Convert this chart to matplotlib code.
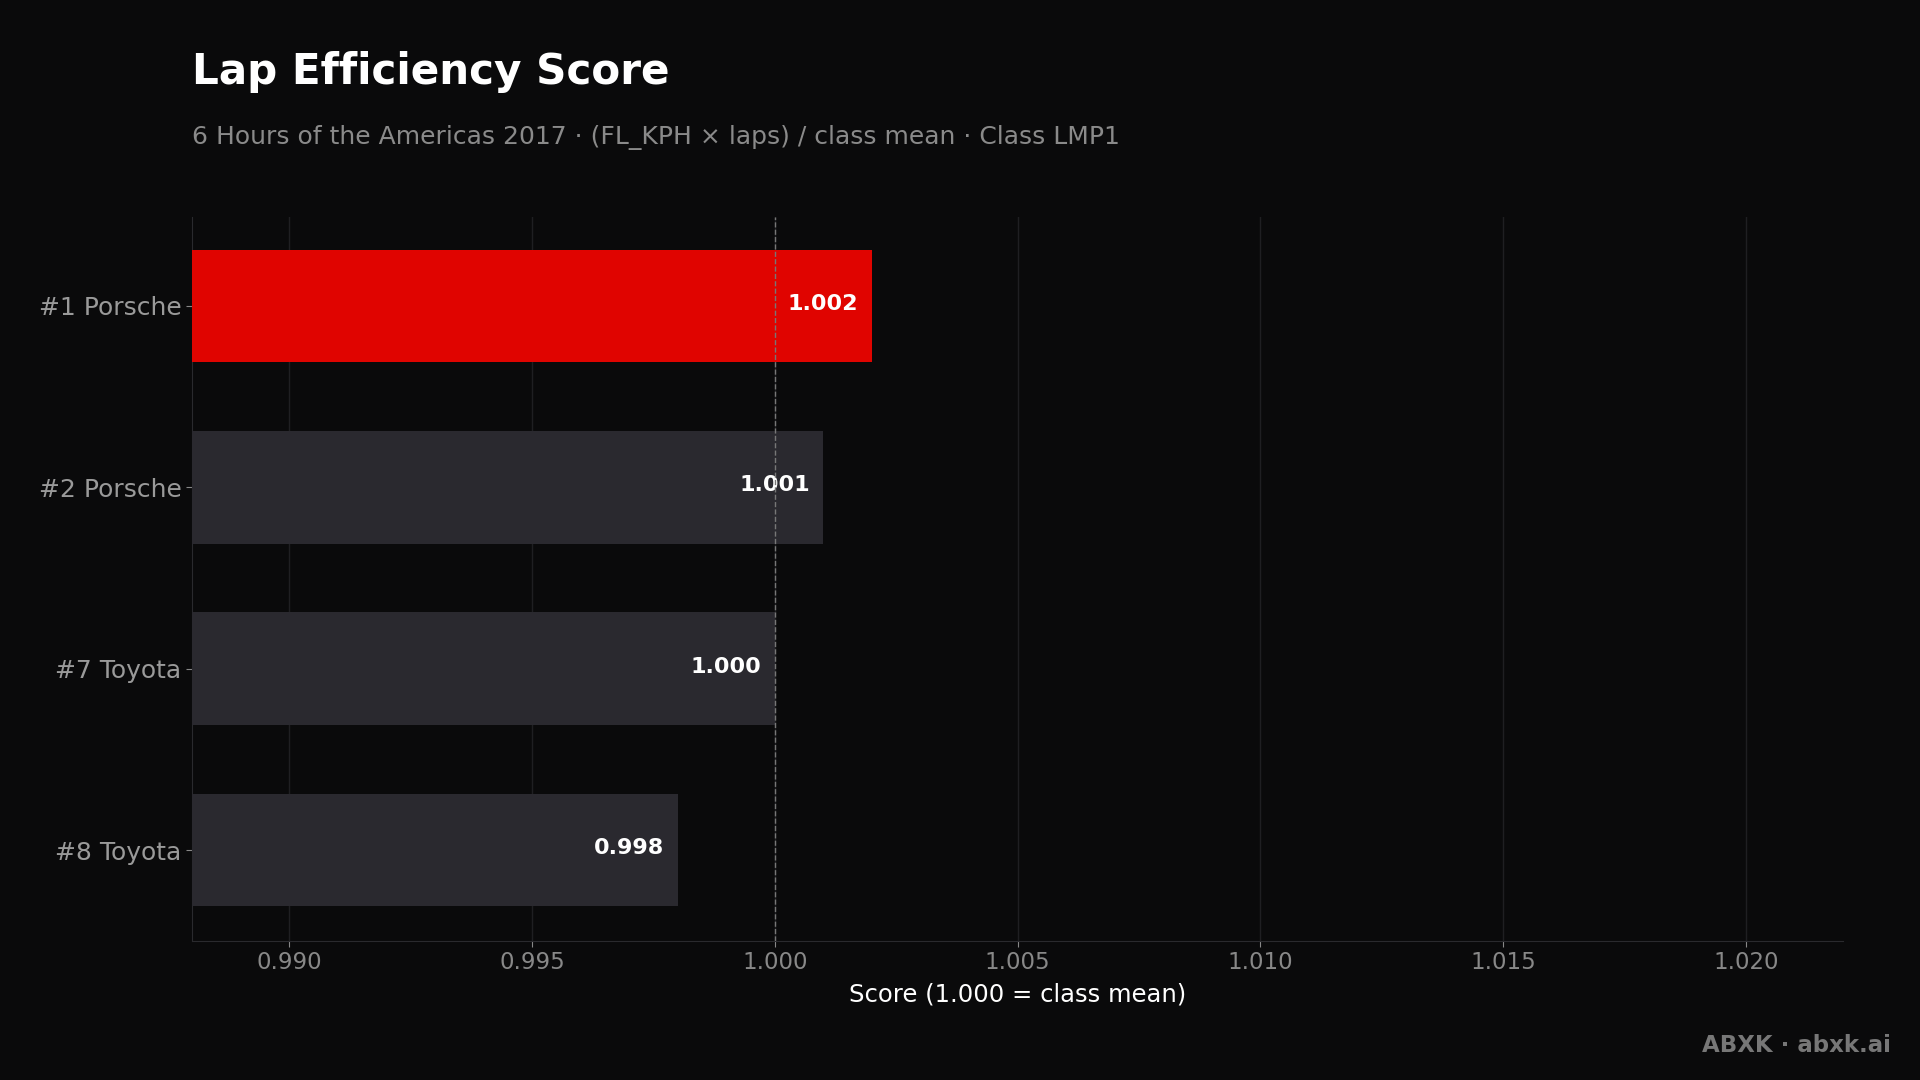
import matplotlib
matplotlib.use("Agg")
import matplotlib.pyplot as plt

cars = ["#1 Porsche", "#2 Porsche", "#7 Toyota", "#8 Toyota"]
scores = [1.002, 1.001, 1.000, 0.998]
colors = ["#e00400", "#2a292f", "#2a292f", "#2a292f"]
xticks = [0.990, 0.995, 1.000, 1.005, 1.010, 1.015, 1.020]

bg = "#0a0a0b"
fig = plt.figure(figsize=(19.2, 10.8), dpi=100, facecolor=bg)
ax = fig.add_axes([0.100, 0.129, 0.860, 0.670], facecolor=bg)

y = list(range(len(cars)))
ax.barh(y, [s - 0.988 for s in scores], left=0.988, height=0.62, color=colors, zorder=3)
for yi, s in zip(y, scores):
    ax.text(s - 0.00028, yi - 0.01, f"{s:.3f}", ha="right", va="center", color="white",
            fontsize=16, fontweight="bold", zorder=4)
ax.axvline(1.0, color="#777777", linestyle="--", linewidth=1, zorder=4)

ax.set_xlim(0.988, 1.022)
ax.set_ylim(3.5, -0.49)
ax.set_yticks(y)
ax.set_yticklabels(cars)
ax.set_xticks(xticks)
ax.set_xticklabels([f"{t:.3f}" for t in xticks])
ax.tick_params(axis="both", colors="#888888", labelsize=16.5, length=4)
ax.tick_params(axis="y", labelcolor="#9a9a9a", labelsize=18)
ax.grid(axis="x", color="#1f1f22", linewidth=1, zorder=0)
for side in ["top", "right"]:
    ax.spines[side].set_visible(False)
for side in ["left", "bottom"]:
    ax.spines[side].set_color("#2a2a2e")
ax.set_xlabel("Score (1.000 = class mean)", color="white", fontsize=17.5, labelpad=6)

fig.text(0.100, 0.933, "Lap Efficiency Score", color="white", fontsize=30.3,
         fontweight="bold", va="center")
fig.text(0.100, 0.873, "6 Hours of the Americas 2017 · (FL_KPH × laps) / class mean · Class LMP1",
         color="#8a8a8a", fontsize=18, va="center")
fig.text(0.985, 0.032, "ABXK · abxk.ai", color="#777777", fontsize=16.5,
         fontweight="bold", ha="right", va="center")

fig.savefig("out.png", dpi=100, facecolor=bg)
